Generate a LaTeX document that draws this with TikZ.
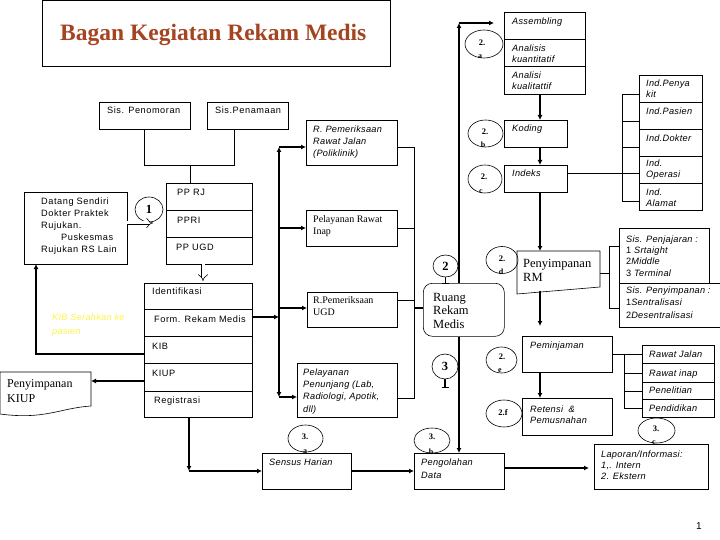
\documentclass[tikz,border=0pt]{standalone}
\usepackage{fontspec}
\setmainfont{Liberation Serif}
\setsansfont{Liberation Sans}
\newfontfamily\sfwide{Liberation Sans}[LetterSpace=6]
\newfontfamily\sfitwide{Liberation Sans}[LetterSpace=3]
\usetikzlibrary{arrows.meta,shapes.geometric,calc}
\definecolor{titlered}{RGB}{165,68,32}
\definecolor{pyellow}{RGB}{250,245,70}
\newcommand\bx[5]{\pgfmathsetmacro\bxw{#4-#2}\pgfmathsetmacro\bxh{#5-#3}%
  \node[boxs, minimum width=\bxw pt, minimum height=\bxh pt] (#1) at (#2,#3) {};}
\newcommand\hbx[5]{\pgfmathsetmacro\bxw{#4-#2}\pgfmathsetmacro\bxh{#5-#3}%
  \node[hbox, minimum width=\bxw pt, minimum height=\bxh pt] (#1) at (#2,#3) {};}
\begin{document}
\begin{tikzpicture}[x=1pt,y=-1pt,
  boxs/.style={draw, line width=0.6pt, anchor=north west, inner sep=0pt, outer sep=0pt},
  hbox/.style={anchor=north west, inner sep=0pt, outer sep=0pt},
  thn/.style={line width=0.6pt},
  thk/.style={line width=1.8pt},
  arr/.style={-{Latex[length=5pt,width=5pt]}},
  sf/.style={inner sep=0pt, anchor=base west, align=left, font=\sfwide\fontsize{9.2}{#1}\selectfont},
  sf/.default=11.5,
  sfi/.style={inner sep=0pt, anchor=base west, align=left, font=\sfitwide\itshape\fontsize{9.2}{#1}\selectfont},
  sfi/.default=11.5,
  sr/.style={inner sep=0pt, anchor=base west, align=left, font=\rmfamily\fontsize{10}{#1}\selectfont},
  sr/.default=12,
  srb/.style={inner sep=0pt, anchor=base west, align=left, font=\rmfamily\fontsize{12.5}{#1}\selectfont},
  srb/.default=14,
  ell/.style={draw, ellipse, line width=0.6pt, inner sep=0pt},
  cn/.style={inner sep=0pt, font=\rmfamily\bfseries\fontsize{8.5}{9}\selectfont},
  cl/.style={inner sep=0pt, font=\rmfamily\bfseries\fontsize{8}{9}\selectfont},
  big/.style={inner sep=0pt, font=\rmfamily\bfseries\fontsize{12.5}{13}\selectfont}]
\useasboundingbox (0,0) rectangle (720,540);

% title
\bx{titlebox}{42}{0.5}{390}{66}
\node[inner sep=0pt, anchor=base west, text=titlered, font=\rmfamily\bfseries\fontsize{23.5}{28}\selectfont] (title) at (60,41) {Bagan Kegiatan Rekam Medis};

% boxes
\bx{penom}{99}{102}{190}{129}
\bx{penam}{207}{102}{288}{129}
\bx{rpoli}{306}{120}{397}{165}
\bx{rinap}{306}{210}{397}{246}
\bx{rugd}{307}{292}{397}{327}
\bx{penunj}{297}{363}{397}{417}
\bx{asm}{504}{12}{585}{39}
\bx{akuan}{504}{39}{585}{66}
\bx{akual}{504}{66}{585}{94}
\bx{koding}{504}{120}{567}{147}
\bx{indeks}{504}{165}{567}{192}
\bx{ipeny}{639}{75}{702}{102}
\bx{ipas}{639}{102}{702}{129}
\bx{idok}{639}{129}{702}{156}
\bx{iop}{639}{156}{702}{183}
\bx{ialm}{639}{183}{702}{210}
\bx{datang}{24}{192}{127}{264}
\bx{pprj}{166}{183}{252}{210}
\bx{ppri}{166}{210}{252}{237}
\bx{ppugd}{166}{237}{252}{264}
\bx{ident}{144}{283}{252}{309}
\bx{form}{144}{309}{252}{336}
\bx{kib}{144}{336}{252}{363}
\bx{kiup}{144}{363}{252}{391}
\bx{regis}{144}{391}{252}{417}
\bx{sjaj}{619}{228}{709}{283}
\bx{ssimp}{619}{283}{730}{327}
\bx{pinjam}{522}{336}{612}{372}
\bx{retensi}{522}{398}{612}{435}
\bx{rjalan}{642}{345}{714}{363}
\bx{rinap2}{642}{363}{714}{382}
\bx{penel}{642}{382}{714}{399}
\bx{pendid}{642}{399}{714}{417}
\bx{lapor}{594}{444}{708}{489}
\bx{olah}{414}{453}{504}{489}
\bx{sensus}{262}{453}{351}{489}
\node[draw, line width=0.6pt, rounded corners=9pt, anchor=north west, inner sep=0pt, minimum width=81pt, minimum height=53pt] (ruang) at (423,283) {};
\hbx{rm}{517}{251}{600}{294}
\draw[thn] (rm.north west) -- (rm.north east) -- (600,287) -- (rm.south west) -- cycle;
\hbx{pkiup}{0}{372}{91}{414}
\draw[thn] (pkiup.north west) -- (pkiup.north east) -- (91,406) .. controls (60,408) and (45,420) .. (pkiup.south west) -- cycle;

% texts (multi-line nodes are placed at the baseline of their last line)
\node[sf] (t-penom) at (107,114) {Sis. Penomoran};
\node[sf] (t-penam) at (215,114) {Sis.Penamaan};
\node[sfi=12] (t-rpoli) at (313,157) {R. Pemeriksaan\\Rawat Jalan\\(Poliklinik)};
\node[sr=12] (t-rinap) at (313,234) {Pelayanan Rawat\\Inap};
\node[sr=12] (t-rugd) at (313,315) {R.Pemeriksaan\\UGD};
\node[sfi=12.3] (t-penunj) at (303,412) {Pelayanan\\Penunjang (Lab,\\Radiologi, Apotik,\\dll)};
\node[sfi] (t-asm) at (512,25) {Assembling};
\node[sfi=11] (t-akuan) at (512,63) {Analisis\\kuantitatif};
\node[sfi=11] (t-akual) at (512,90) {Analisi\\kualitattif};
\node[sfi] (t-koding) at (512,132) {Koding};
\node[sfi] (t-indeks) at (512,177) {Indeks};
\node[sfi=11] (t-ipeny) at (646,98) {Ind.Penya\\kit};
\node[sfi] (t-ipas) at (646,115) {Ind.Pasien};
\node[sfi] (t-idok) at (646,142) {Ind.Dokter};
\node[sfi=11] (t-iop) at (646,178) {Ind.\\Operasi};
\node[sfi=11] (t-ialm) at (646,207) {Ind.\\Alamat};
\node[sf=11.8] (t-datang) at (41,252) {Datang Sendiri\\Dokter Praktek\\Rujukan.\\\hspace*{20pt}Puskesmas\\Rujukan RS Lain};
\node[sf] (t-pprj) at (177,196) {PP RJ};
\node[sf] (t-ppri) at (177,223) {PPRI};
\node[sf] (t-ppugd) at (176,250) {PP UGD};
\node[sf] (t-ident) at (152,294) {Identifikasi};
\node[sf] (t-form) at (154,322) {Form. Rekam Medis};
\node[sf] (t-kib) at (152,349) {KIB};
\node[sf] (t-kiup) at (152,376) {KIUP};
\node[sf] (t-regis) at (154,403) {Registrasi};
\node[sfi=14, text=pyellow] (t-serah) at (52,334) {KIB Serahkan ke\\pasien};
\node[srb=15, font=\rmfamily\fontsize{12}{15}\selectfont] (t-pkiup) at (7,402) {Penyimpanan\\KIUP};
\node[srb=13.5] (t-ruang) at (433,328) {Ruang\\Rekam\\Medis};
\node[srb=14] (t-rm) at (523,281) {Penyimpanan\\RM};
\node[sfi=11.3] (t-sjaj) at (626,276) {Sis. Penjajaran :\\\upshape 1 \itshape Srtaight\\\upshape 2\itshape Middle\\\upshape 3 \itshape Terminal};
\node[sfi=12.5] (t-ssimp) at (626,318) {Sis. Penyimpanan :\\\upshape 1\itshape Sentralisasi\\\upshape 2\itshape Desentralisasi};
\node[sfi] (t-pinjam) at (530,348) {Peminjaman};
\node[sfi=11] (t-retensi) at (530,423) {Retensi~~\&\\Pemusnahan};
\node[sfi] (t-rjalan) at (649,357) {Rawat Jalan};
\node[sfi] (t-rinap2) at (649,376) {Rawat inap};
\node[sfi] (t-penel) at (649,393) {Penelitian};
\node[sfi] (t-pendid) at (649,411) {Pendidikan};
\node[sfi=11] (t-lapor) at (601,479) {Laporan/Informasi:\\1,. Intern\\2. Ekstern};
\node[sfi=13] (t-olah) at (421,478) {Pengolahan\\Data};
\node[sfi] (t-sensus) at (269,465) {Sensus Harian};
\node[inner sep=0pt, anchor=base west, font=\sffamily\fontsize{10}{12}\selectfont] (pageno) at (696,529) {1};

% callouts
\node[ell, minimum width=38pt, minimum height=28pt] (c2a) at (484,44) {};
\node[cn] (c2a-n) at (482,43) {2.};
\node[cl] (c2a-l) at (480,57) {a};
\node[ell, minimum width=35pt, minimum height=27pt] (c2b) at (485.5,133.5) {};
\node[cn] (c2b-n) at (485,132) {2.};
\node[cl] (c2b-l) at (483,145) {b};
\node[ell, minimum width=34pt, minimum height=28pt] (c2c) at (485,179) {};
\node[cn] (c2c-n) at (484,177) {2.};
\node[cl] (c2c-l) at (481,192) {c};
\node[ell, minimum width=32pt, minimum height=27pt] (c2d) at (502,260) {};
\node[cn] (c2d-n) at (502,259) {2.};
\node[cl] (c2d-l) at (501,272) {d};
\node[ell, minimum width=31pt, minimum height=26pt] (c2e) at (501.5,360) {};
\node[cn] (c2e-n) at (502,357) {2.};
\node[cl] (c2e-l) at (500,371) {e};
\node[ell, minimum width=36pt, minimum height=27pt] (c2f) at (504,413.5) {};
\node[cn] (c2f-n) at (503,413) {2.f};
\node[ell, minimum width=35pt, minimum height=27pt] (c3a) at (305.5,438.5) {};
\node[cn] (c3a-n) at (305,437) {3.};
\node[cl] (c3a-l) at (305,452) {a};
\node[ell, minimum width=36pt, minimum height=25pt] (c3b) at (432,440.5) {};
\node[cn] (c3b-n) at (432,437) {3.};
\node[cl] (c3b-l) at (431,452) {b};
\node[ell, minimum width=37pt, minimum height=25pt] (c3c) at (656.5,430.5) {};
\node[cn] (c3c-n) at (656,429) {3.};
\node[cl] (c3c-l) at (654,443) {c};
\node[ell, minimum width=25pt, minimum height=22pt] (big2) at (445.5,266) {};
\node[big] (big2-n) at (445.5,266) {2};
\node[ell, minimum width=26pt, minimum height=25pt] (big3) at (445,366.5) {};
\node[big] (big3-n) at (445,366) {3};
\node[ell, minimum width=28pt, minimum height=25pt] (c1) at (149,209.5) {};
\node[big] (c1-n) at (149,209.5) {1};
\draw[line width=1.5pt] (big2.south) -- (big2.south |- ruang.north);
\draw[thn] ([xshift=-3.5pt]big2.south |- ruang.north) -- ([xshift=3.5pt]big2.south |- ruang.north);
\coordinate (b3e) at (445,387);
\draw[line width=1.5pt] (big3.south) -- (b3e);
\draw[thn] ([xshift=-3.5pt]b3e) -- ([xshift=3.5pt]b3e);

% coordinates
\coordinate (vtop) at (279,147);
\coordinate (vmid) at (279,317);
\coordinate (vbot) at (279,397);
\coordinate (rv1) at (414,147);
\coordinate (rv2) at (414,398);
\coordinate (rv3) at (414,300);
\coordinate (ua) at (459,23);
\coordinate (dn) at (540,0);
\coordinate (ie) at (567,173);
\coordinate (iv1) at (622,94);
\coordinate (iv2) at (622,201);
\coordinate (sv1) at (609,246);
\coordinate (sv2) at (609,308);
\coordinate (pv1) at (624,354);
\coordinate (pv2) at (624,408);
\coordinate (rg) at (189,471);
\coordinate (kb) at (36,354);
\coordinate (kp) at (252,381);
\coordinate (pj) at (166,165);
\coordinate (pjr) at (234,165);
\coordinate (ol) at (504,468);

% left column
\draw[thn] (penom.south) -- (penom.south |- pj) -- (pjr) -- (pjr |- penam.south);
\draw[thn] (pprj.north -| penom.east) -- (pj -| penom.east);
\draw[line width=0.6pt, double, double distance=3pt, -{Implies}] (datang.east |- 0,223) -- (153,223);
\draw[line width=0.6pt, double, double distance=3pt, -{Implies}] (ppugd.south -| 203,0) -- (203,281);
\draw[thk, arr] (kib.west |- kb) -- (kb) -- (kb |- datang.south);
\draw[thk, arr] (kp -| kiup.west) -- (kp -| pkiup.east);
\draw[thk, arr] (regis.south -| rg) -- (rg);
\draw[thk, arr] (rg) -- (rg -| sensus.west);
\draw[thk, arr] (form.east |- vmid) -- (vmid);
\draw[thk, arr] (vmid) -- (vtop);
\draw[thk, arr] (vmid) -- (vbot);
\draw[thk, arr] (vtop) -- (vtop -| rpoli.west);
\draw[thk, arr] (vtop |- rinap.west) -- (rinap.west);
\draw[thk, arr] (vtop |- 0,308) -- (rugd.west |- 0,308);
\draw[thk, arr] (vbot) -- (vbot -| penunj.west);

% right collector
\draw[thn] (rpoli.east |- rv1) -- (rv1) -- (rv2) -- (penunj.east |- rv2);
\draw[thn] (rinap.east) -- (rinap.east -| rv1);
\draw[thn] (rugd.east |- rv3) -- (rv3);
\draw[thk] (rv1 |- 0,308) -- (ruang.west |- 0,308);

% ruang column
\draw[thk, arr] (ua |- ruang.north) -- (ua);
\draw[thk, arr, shorten >=10pt] (ua) -- (ua -| asm.west);
\draw[thk, arr] (ua |- ruang.south) -- (ua |- olah.north);

% analysis column
\draw[thk, arr] (akual.south -| dn) -- (koding.north -| dn);
\draw[thk, arr] (koding.south -| dn) -- (indeks.north -| dn);
\draw[thk, arr] (indeks.south -| dn) -- (rm.north -| dn);
\draw[thk, arr, shorten >=10pt] (dn |- 0,291) -- (pinjam.north -| dn);
\draw[thk, arr] (pinjam.south -| dn) -- (retensi.north -| dn);

% index tree
\draw[thn] (iv1) -- (iv2);
\draw[thn] (iv1) -- (iv1 -| ipeny.west);
\draw[thn] (iv1 |- 0,121) -- (ipas.west |- 0,121);
\draw[thn] (iv1 |- 0,147) -- (idok.west |- 0,147);
\draw[thn] (ie) -- (iop.west |- ie);
\draw[thn] (iv2) -- (iv2 -| ialm.west);

% storage tree
\draw[thn] (rm.east |- 0,273) -- (sv1 |- 0,273);
\draw[thn] (sv1) -- (sv2);
\draw[thn] (sv1) -- (sv1 -| sjaj.west);
\draw[thn] (sv2) -- (sv2 -| ssimp.west);

% loan tree
\draw[thn] (pinjam.east |- pv1) -- (pv1) -- (pv2);
\draw[thn] (pv1) -- (pv1 -| rjalan.west);
\draw[thn] (pv1 |- 0,373) -- (rinap2.west |- 0,373);
\draw[thn] (pv1 |- 0,391) -- (penel.west |- 0,391);
\draw[thn] (pv2) -- (pv2 -| pendid.west);

% bottom
\draw[thk, arr] (sensus.east) -- (olah.west);
\draw[thk, arr, shorten >=5pt] (ol) -- (ol -| lapor.west);
\end{tikzpicture}
\end{document}
